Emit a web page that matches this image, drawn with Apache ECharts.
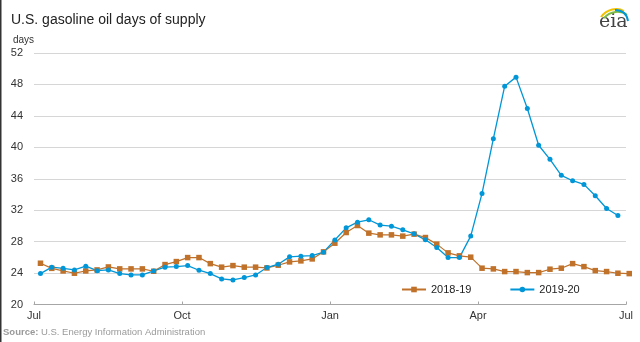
<!DOCTYPE html>
<html><head><meta charset="utf-8">
<script src="https://cdn.jsdelivr.net/npm/echarts@6/dist/echarts.min.js"></script>
<style>html,body{margin:0;padding:0;background:#fff}#c{width:640px;height:342px}</style>
</head><body><div id="c"></div>
<script>
// x-axis tick labels (quarter starts, Jul -> Jul)
const monthLabels = ['Jul', 'Oct', 'Jan', 'Apr', 'Jul'];
// weekly observations; first week ends 4 days after Jul 1
const firstDay = 4;
const daysPerWeek = 7;
// days of supply, 2018-19 (weekly)
const values1819 = [25.25, 24.6, 24.27, 23.98, 24.27, 24.4, 24.78, 24.53, 24.53, 24.53,
  24.23, 25.08, 25.46, 25.97, 25.97, 25.2, 24.75, 24.95, 24.75, 24.75,
  24.65, 25.0, 25.42, 25.55, 25.8, 26.7, 27.8, 29.16, 30.05, 29.08,
  28.86, 28.86, 28.7, 28.95, 28.52, 27.68, 26.57, 26.19, 26.02, 24.62,
  24.53, 24.19, 24.19, 24.06, 24.06, 24.49, 24.62, 25.2, 24.82, 24.31,
  24.19, 23.98, 23.93];
// days of supply, 2019-20 (weekly)
const values1920 = [23.93, 24.75, 24.6, 24.4, 24.87, 24.31, 24.4, 23.93, 23.76, 23.76,
  24.27, 24.75, 24.82, 24.95, 24.36, 23.93, 23.25, 23.12, 23.42, 23.76,
  24.7, 25.13, 26.06, 26.15, 26.23, 26.66, 28.2, 29.75, 30.48, 30.78,
  30.1, 29.97, 29.5, 28.99, 28.23, 27.25, 25.97, 25.97, 28.7, 34.13,
  41.1, 47.78, 48.93, 44.94, 40.26, 38.47, 36.43, 35.75, 35.28, 33.84,
  32.22, 31.33];

function toPairs(vals) {
  return vals.map((v, i) => [firstDay + i * daysPerWeek, v]);
}

const chart = echarts.init(document.getElementById('c'), null, {renderer: 'canvas'});
const font = 'Liberation Sans, Arial, sans-serif';
chart.setOption({
  animation: false,
  backgroundColor: '#fff',
  textStyle: {fontFamily: font},
  title: {
    text: 'U.S. gasoline oil days of supply',
    left: 6, top: 8,
    textStyle: {fontSize: 14, fontWeight: 'normal', color: '#222', fontFamily: font}
  },
  grid: {left: 34, right: 14, top: 53, bottom: 37.5, containLabel: false},
  legend: {
    left: 401, top: 284, padding: 0,
    itemWidth: 24, itemHeight: 7, itemGap: 38,
    textStyle: {fontSize: 11, color: '#222', fontFamily: font},
    data: ['2018-19', '2019-20']
  },
  xAxis: {
    type: 'value', min: 0, max: 366, interval: 91.5,
    axisLine: {show: true, lineStyle: {color: '#a6a6a6', width: 1}},
    axisTick: {show: true, inside: true, length: 3, lineStyle: {color: '#a6a6a6'}},
    splitLine: {show: false},
    axisLabel: {
      fontSize: 11, color: '#333', margin: 6, fontFamily: font,
      formatter: v => monthLabels[Math.round(v / 91.5)]
    }
  },
  yAxis: {
    type: 'value', min: 20, max: 52, interval: 4,
    name: 'days', nameLocation: 'end', nameGap: 8,
    nameTextStyle: {fontSize: 10, color: '#333', align: 'left', padding: [0, 0, 0, -21], fontFamily: font},
    axisLine: {show: false}, axisTick: {show: false},
    splitLine: {lineStyle: {color: '#d6d6d6', width: 1}},
    axisLabel: {fontSize: 11, color: '#333', margin: 11, fontFamily: font}
  },
  series: [
    {
      name: '2018-19', type: 'line', data: toPairs(values1819), clip: false,
      symbol: 'rect', symbolSize: 5.5,
      itemStyle: {color: '#c0712a'},
      lineStyle: {color: '#c0712a', width: 1.2}
    },
    {
      name: '2019-20', type: 'line', data: toPairs(values1920), clip: false,
      symbol: 'circle', symbolSize: 5,
      itemStyle: {color: '#0096d7'},
      lineStyle: {color: '#0096d7', width: 1.3}
    }
  ],
  graphic: [
    {type: 'rect', left: 0, top: 0, shape: {width: 1.5, height: 342}, style: {fill: '#333'}},
    {type: 'text', left: 3, top: 327, style: {
      text: '{b|Source:} U.S. Energy Information Administration',
      rich: {b: {fontWeight: 'bold', fontSize: 9.5, fill: '#999', fontFamily: font}},
      fontSize: 9.5, fill: '#9a9a9a', fontFamily: font}},
    {type: 'text', left: 599, top: 13, style: {text: 'eia', fontSize: 19, fill: '#444', fontFamily: 'DejaVu Serif, Liberation Serif, serif'}},
    {type: 'bezierCurve', shape: {x1: 601, y1: 17, x2: 624, y2: 11, cpx1: 607, cpy1: 9, cpx2: 617, cpy2: 7}, style: {stroke: '#f2c100', lineWidth: 2, fill: null}},
    {type: 'bezierCurve', shape: {x1: 604, y1: 18, x2: 627, y2: 15, cpx1: 610, cpy1: 11, cpx2: 621, cpy2: 10}, style: {stroke: '#7dbb42', lineWidth: 2, fill: null}},
    {type: 'bezierCurve', shape: {x1: 615, y1: 10, x2: 628, y2: 21, cpx1: 623, cpy1: 10, cpx2: 627, cpy2: 15}, style: {stroke: '#0096d7', lineWidth: 2, fill: null}}
  ]
});
</script>
</body></html>
